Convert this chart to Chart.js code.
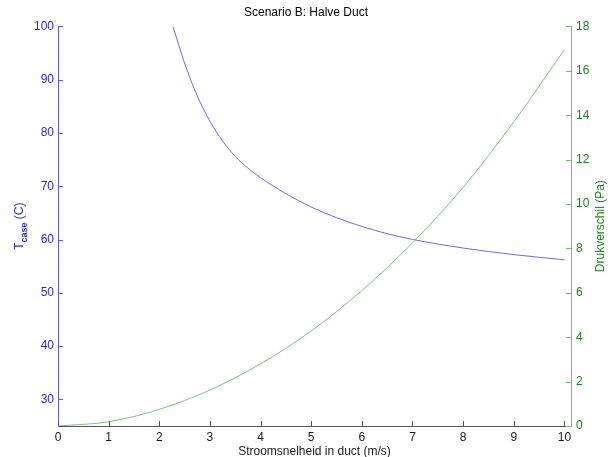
<!DOCTYPE html>
<html>
<head>
<meta charset="utf-8">
<script src="https://cdn.jsdelivr.net/npm/chart.js@4"></script>
<style>
  html, body { margin: 0; padding: 0; background: #fff; }
  #wrap { width: 612px; height: 457px; position: relative; }
</style>
</head>
<body>
<div id="wrap"><canvas id="chart"></canvas></div>
<script>
// values
const velocityT = [2.27, 2.5, 2.75, 3, 3.25, 3.5, 3.75, 4, 4.5, 5, 5.5, 6, 6.5, 7, 7.5, 8, 8.5, 9, 9.5, 10];
const tCase = [100, 93.1, 86.95, 82.2, 78.5, 75.6, 73.4, 71.6, 68.6, 66.1, 64.1, 62.45, 61.1, 60.02, 59.15, 58.4, 57.75, 57.17, 56.67, 56.2];

const velocityP = [0, 1, 2, 3, 4, 5, 6, 7, 8, 9, 10];
const drukverschil = [0, 0.19, 0.75, 1.62, 2.8, 4.28, 6.1, 8.25, 10.75, 13.7, 16.95];

const xTicks = [0, 1, 2, 3, 4, 5, 6, 7, 8, 9, 10];
const leftTicks = [30, 40, 50, 60, 70, 80, 90, 100];
const rightTicks = [0, 2, 4, 6, 8, 10, 12, 14, 16, 18];

const blueLine = '#6b6bef';
const blueAxis = '#5a5aff';
const blueText = '#2b2bdd';
const greenLine = '#7cc47c';
const greenAxis = '#6abf6a';
const greenText = '#1a8a1a';
const xAxisColor = '#555555';

Chart.defaults.font.family = "'Liberation Sans', Arial, sans-serif";
Chart.defaults.font.size = 12;

const toPoints = (xs, ys) => xs.map((x, i) => ({ x: x, y: ys[i] }));
const useTicks = (list) => (scale) => { scale.ticks = list.map(v => ({ value: v })); };

// inward tick marks and axis labels, MATLAB style
const axisDecor = {
    id: 'axisDecor',
    afterDraw(chart) {
        const { ctx, chartArea, scales } = chart;
        ctx.save();
        ctx.lineWidth = 1;

        ctx.strokeStyle = xAxisColor;
        scales.x.ticks.forEach(t => {
            const px = Math.round(scales.x.getPixelForValue(t.value)) + 0.5;
            ctx.beginPath();
            ctx.moveTo(px, chartArea.bottom);
            ctx.lineTo(px, chartArea.bottom - 5);
            ctx.stroke();
        });

        ctx.strokeStyle = blueAxis;
        scales.y.ticks.forEach(t => {
            const py = Math.round(scales.y.getPixelForValue(t.value)) + 0.5;
            ctx.beginPath();
            ctx.moveTo(chartArea.left, py);
            ctx.lineTo(chartArea.left + 5, py);
            ctx.stroke();
        });

        ctx.strokeStyle = greenAxis;
        scales.y2.ticks.forEach(t => {
            const py = Math.round(scales.y2.getPixelForValue(t.value)) + 0.5;
            ctx.beginPath();
            ctx.moveTo(chartArea.right, py);
            ctx.lineTo(chartArea.right - 5, py);
            ctx.stroke();
        });

        // x label
        ctx.fillStyle = '#1a1a1a';
        ctx.font = "12px 'Liberation Sans', Arial, sans-serif";
        ctx.textAlign = 'center';
        ctx.textBaseline = 'alphabetic';
        ctx.fillText('Stroomsnelheid in duct (m/s)', (chartArea.left + chartArea.right) / 2, 455);

        const midY = (chartArea.top + chartArea.bottom) / 2;

        // left label: T with subscript "case"
        ctx.save();
        ctx.translate(23, midY);
        ctx.rotate(-Math.PI / 2);
        ctx.fillStyle = blueText;
        const mainFont = "12px 'Liberation Sans', Arial, sans-serif";
        const subFont = "bold 9px 'Liberation Sans', Arial, sans-serif";
        ctx.font = mainFont;
        const wT = ctx.measureText('T').width;
        const wC = ctx.measureText(' (C)').width;
        ctx.font = subFont;
        const wS = ctx.measureText('case').width;
        let x0 = -(wT + wS + wC) / 2;
        ctx.textAlign = 'left';
        ctx.font = mainFont;
        ctx.fillText('T', x0, 0);
        ctx.font = subFont;
        ctx.fillText('case', x0 + wT, 4);
        ctx.font = mainFont;
        ctx.fillText(' (C)', x0 + wT + wS, 0);
        ctx.restore();

        // right label
        ctx.save();
        ctx.translate(604, midY);
        ctx.rotate(-Math.PI / 2);
        ctx.fillStyle = greenText;
        ctx.font = mainFont;
        ctx.textAlign = 'center';
        ctx.fillText('Drukverschil (Pa)', 0, 0);
        ctx.restore();

        ctx.restore();
    }
};

new Chart(document.getElementById('chart'), {
    type: 'line',
    data: {
        datasets: [
            {
                label: 'Tcase',
                data: toPoints(velocityT, tCase),
                yAxisID: 'y',
                borderColor: blueLine,
                borderWidth: 1,
                pointRadius: 0,
                cubicInterpolationMode: 'monotone',
                fill: false
            },
            {
                label: 'Drukverschil',
                data: toPoints(velocityP, drukverschil),
                yAxisID: 'y2',
                borderColor: greenLine,
                borderWidth: 1,
                pointRadius: 0,
                cubicInterpolationMode: 'monotone',
                fill: false
            }
        ]
    },
    options: {
        responsive: true,
        maintainAspectRatio: false,
        animation: false,
        layout: { padding: 0 },
        scales: {
            x: {
                type: 'linear',
                min: 0,
                max: 10.13,
                afterBuildTicks: useTicks(xTicks),
                afterFit: (scale) => { scale.height = 31; },
                grid: { display: false, drawTicks: false },
                border: { display: true, color: xAxisColor, width: 1 },
                ticks: { color: '#1a1a1a', padding: 4, maxRotation: 0, autoSkip: false }
            },
            y: {
                type: 'linear',
                position: 'left',
                min: 25,
                max: 100,
                afterBuildTicks: useTicks(leftTicks),
                afterFit: (scale) => { scale.width = 58; },
                grid: { display: false, drawTicks: false },
                border: { display: true, color: blueAxis, width: 1 },
                ticks: { color: blueText, padding: 4, autoSkip: false }
            },
            y2: {
                type: 'linear',
                position: 'right',
                min: 0,
                max: 18,
                afterBuildTicks: useTicks(rightTicks),
                afterFit: (scale) => { scale.width = 41; },
                grid: { display: false, drawTicks: false },
                border: { display: true, color: greenAxis, width: 1 },
                ticks: { color: greenText, padding: 5, autoSkip: false }
            }
        },
        plugins: {
            legend: { display: false },
            tooltip: { enabled: false },
            title: {
                display: true,
                text: 'Scenario B: Halve Duct',
                color: '#000',
                font: { size: 12, weight: 'normal' },
                padding: { top: 5, bottom: 7 }
            }
        }
    },
    plugins: [axisDecor]
});
</script>
</body>
</html>
